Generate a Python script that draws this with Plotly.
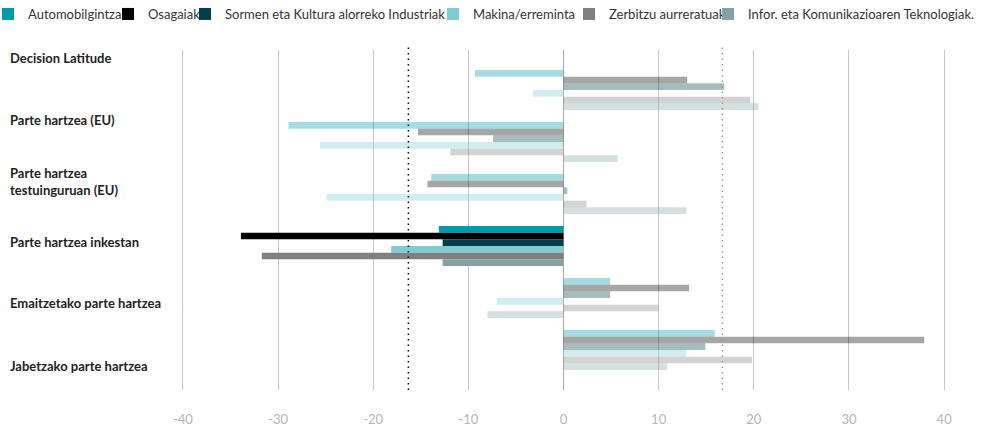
import plotly.graph_objects as go

categories = [
    "Decision Latitude",
    "Parte hartzea (EU)",
    "Parte hartzea testuinguruan (EU)",
    "Parte hartzea inkestan",
    "Emaitzetako parte hartzea",
    "Jabetzako parte hartzea",
]
category_labels = [
    "Decision Latitude",
    "Parte hartzea (EU)",
    "Parte hartzea<br>testuinguruan (EU)",
    "Parte hartzea inkestan",
    "Emaitzetako parte hartzea",
    "Jabetzako parte hartzea",
]
highlighted = "Parte hartzea inkestan"

series_names = [
    "Automobilgintza",
    "Osagaiak",
    "Sormen eta Kultura alorreko Industriak",
    "Makina/erreminta",
    "Zerbitzu aurreratuak",
    "Infor. eta Komunikazioaren Teknologiak.",
]
automobilgintza = [-9.3, -28.9, -13.9, -13.1, 4.9, 15.9]
osagaiak = [13.0, -15.3, -14.3, -33.9, 13.2, 37.9]
sormen = [16.9, -7.4, 0.4, -12.7, 4.9, 14.9]
makina = [-3.2, -25.6, -24.9, -18.1, -7.0, 12.9]
zerbitzu = [19.6, -11.9, 2.4, -31.7, 10.0, 19.8]
infor = [20.5, 5.7, 12.9, -12.7, -8.0, 10.9]
series_values = [automobilgintza, osagaiak, sormen, makina, zerbitzu, infor]

reference_lines = [-16.3, 16.7]
tick_values = [-40, -30, -20, -10, 0, 10, 20, 30, 40]
tick_labels = ["-40", "-30", "-20", "-10", "0", "10", "20", "30", "40"]

colors = ["#009aaa", "#000000", "#003f49", "#7ecbd2", "#808080", "#83a2a5"]
ref_colors = ["#000000", "#999999"]
FONT = "Lato"

# pixel geometry helpers
W, H = 985, 429
ML, MR, MT, MB = 180, 38, 50, 39
PW = W - ML - MR
PH = H - MT - MB


def px_x(px):
    return (px - ML) / PW


def px_y(py):
    return (H - MB - py) / PH


legend_text_x = [28, 148, 225, 473, 609, 748]

fig = go.Figure()
opac = [1.0 if c == highlighted else 0.35 for c in categories]
for i, (name, vals) in enumerate(zip(series_names, series_values)):
    lg = "legend" if i == 0 else f"legend{i + 1}"
    fig.add_trace(go.Bar(
        y=categories, x=vals, name=name, orientation="h",
        marker=dict(color=colors[i], opacity=opac, line=dict(width=0)),
        legend=lg,
    ))

for xv, col in zip(reference_lines, ref_colors):
    fig.add_shape(type="line", xref="x", yref="paper", x0=xv, x1=xv, y0=0, y1=1.01,
                  line=dict(color=col, width=1.5, dash="1.5px,4px"), layer="above")

label_y_px = [58, 120, 181.5, 242, 303, 366]
for lab, ypx in zip(category_labels, label_y_px):
    fig.add_annotation(text=lab, xref="paper", yref="paper", x=px_x(8), y=px_y(ypx),
                       xanchor="left", yanchor="middle", align="left", showarrow=False,
                       font=dict(family=FONT, size=13, color="#222222", weight=700))

layout_legends = {}
for i, tx in enumerate(legend_text_x):
    key = "legend" if i == 0 else f"legend{i + 1}"
    layout_legends[key] = dict(
        x=px_x(tx - 40), y=px_y(14), xanchor="left", yanchor="middle",
        orientation="h", bgcolor="rgba(0,0,0,0)", borderwidth=0,
        font=dict(family=FONT, size=13, color="#333333"), itemclick=False,
    )

fig.update_layout(
    width=W, height=H,
    margin=dict(l=ML, r=MR, t=MT, b=MB, pad=0, autoexpand=False),
    paper_bgcolor="white", plot_bgcolor="white",
    barmode="group", bargap=0.23, bargroupgap=0,
    showlegend=True,
    font=dict(family=FONT),
    xaxis=dict(range=[-40.3, 40.3], tickvals=tick_values, ticktext=tick_labels,
               showgrid=True, gridcolor="#c4c4c4", gridwidth=1.3,
               zeroline=True, zerolinecolor="#a8a8a8", zerolinewidth=1.2,
               showline=False, ticks="", ticklabelstandoff=20,
               tickfont=dict(family=FONT, size=13, color="#b5b5b5"), fixedrange=True),
    yaxis=dict(categoryorder="array", categoryarray=categories,
               range=[5.77, -0.77], showticklabels=False, showgrid=False,
               zeroline=False, ticks="", fixedrange=True),
    **layout_legends,
)

fig.write_html(
    "out.html",
    config={"displayModeBar": False},
    post_script="document.body.style.margin='0';document.body.style.overflow='hidden';",
)
